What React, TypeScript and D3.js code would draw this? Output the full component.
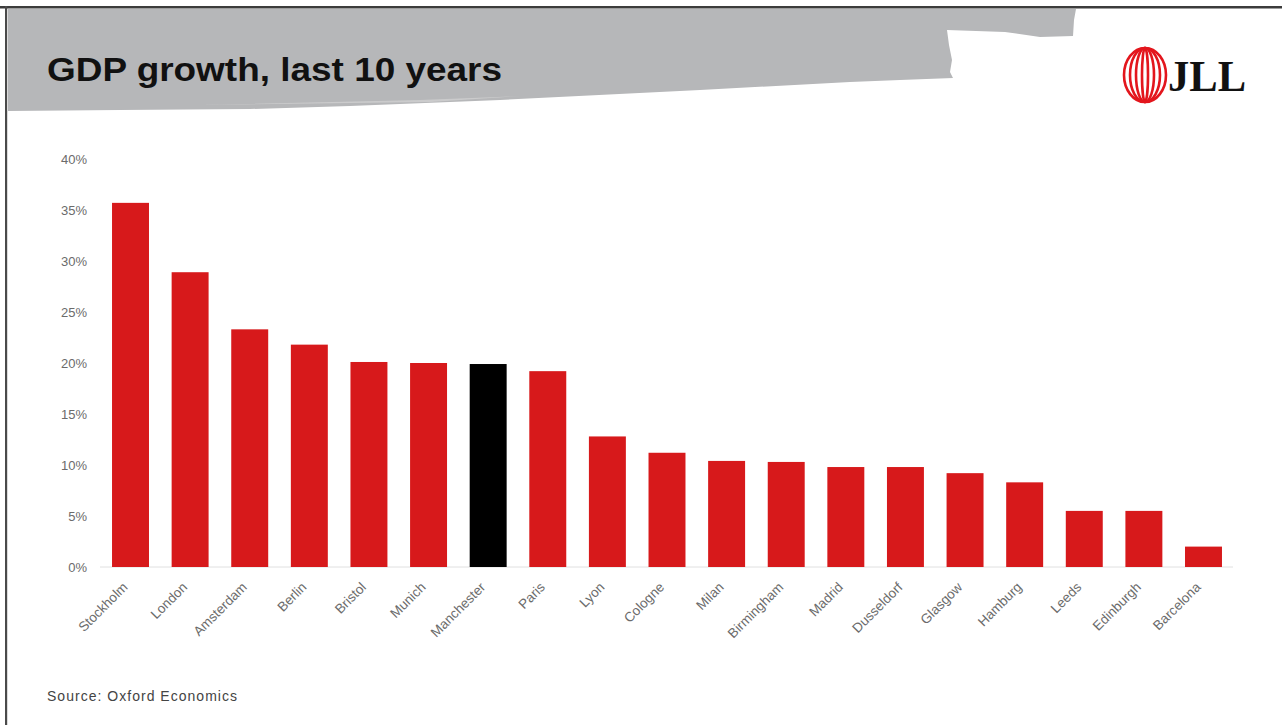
import React, { useEffect, useRef } from "react";
import * as d3 from "d3";

const cities = [
  "Stockholm", "London", "Amsterdam", "Berlin", "Bristol", "Munich", "Manchester",
  "Paris", "Lyon", "Cologne", "Milan", "Birmingham", "Madrid", "Dusseldorf",
  "Glasgow", "Hamburg", "Leeds", "Edinburgh", "Barcelona",
];
const growth = [35.7, 28.9, 23.3, 21.8, 20.1, 20.0, 19.9, 19.2, 12.8, 11.2, 10.4, 10.3, 9.8, 9.8, 9.2, 8.3, 5.5, 5.5, 2.0];
const highlighted = ["Manchester"];
const yTicks = [0, 5, 10, 15, 20, 25, 30, 35, 40];
const titleText = "GDP growth, last 10 years";
const sourceText = "Source: Oxford Economics";

const W = 1282;
const H = 725;

export default function App() {
  const ref = useRef<SVGSVGElement>(null);

  useEffect(() => {
    const svg = d3.select(ref.current);
    svg.selectAll("*").remove();

    svg.append("rect").attr("width", W).attr("height", H).attr("fill", "#fff");

    // brush header
    const brush: [number, number][] = [
      [8, 9], [1076, 9], [1074, 20], [1073, 36], [1040, 37], [1005, 32], [947, 30],
      [949, 45], [952, 60], [950, 72], [953, 78], [900, 80], [850, 82], [700, 90],
      [500, 100], [350, 106], [250, 109], [120, 110], [8, 111],
    ];
    svg.append("path")
      .attr("d", d3.line()(brush) + "Z")
      .attr("fill", "#b6b7b9");
    svg.append("path")
      .attr("d", "M200,105 L420,100 L520,96 L430,102 Z")
      .attr("fill", "#d8d8d8")
      .attr("opacity", 0.6);

    // frame lines
    svg.append("rect").attr("x", 0).attr("y", 6).attr("width", W).attr("height", 2.5).attr("fill", "#3c3c3c");
    svg.append("rect").attr("x", 5).attr("y", 6).attr("width", 2.2).attr("height", H - 6).attr("fill", "#4a4a4a");

    // title
    svg.append("text")
      .attr("x", 47).attr("y", 81)
      .attr("font-family", "'Liberation Sans', Arial, sans-serif")
      .attr("font-weight", "bold")
      .attr("font-size", 34)
      .attr("textLength", 455)
      .attr("lengthAdjust", "spacingAndGlyphs")
      .attr("fill", "#111")
      .text(titleText);

    // logo
    const logo = svg.append("g");
    [21, 15, 9, 3].forEach((rx) => {
      logo.append("ellipse")
        .attr("cx", 1145).attr("cy", 75).attr("rx", rx).attr("ry", 27)
        .attr("fill", "none").attr("stroke", "#e3161d").attr("stroke-width", 2.6);
    });
    logo.append("text")
      .attr("x", 1168).attr("y", 91)
      .attr("font-family", "'Liberation Serif', 'Times New Roman', serif")
      .attr("font-weight", "bold")
      .attr("font-size", 44)
      .attr("textLength", 78)
      .attr("lengthAdjust", "spacingAndGlyphs")
      .attr("fill", "#111")
      .text("JLL");

    // chart
    const x = d3.scaleBand<string>().domain(cities).range([100.7, 1233.3]).paddingInner(0.38).paddingOuter(0.19);
    const y = d3.scaleLinear().domain([0, 40]).range([567, 159]);

    svg.append("line")
      .attr("x1", 100).attr("x2", 1233).attr("y1", y(0)).attr("y2", y(0))
      .attr("stroke", "#e0e0e0").attr("stroke-width", 1);

    const yAxis = d3.axisLeft(y).tickValues(yTicks).tickSize(0).tickPadding(0).tickFormat((d) => `${d}%`);
    const yg = svg.append("g").attr("transform", "translate(87,0)").call(yAxis);
    yg.select(".domain").remove();
    yg.selectAll("text")
      .attr("font-family", "'Liberation Sans', Arial, sans-serif")
      .attr("font-size", 13)
      .attr("fill", "#6b6b6b");

    svg.append("g").selectAll("rect")
      .data(cities)
      .join("rect")
      .attr("x", (d) => x(d)!)
      .attr("width", x.bandwidth())
      .attr("y", (_, i) => y(growth[i]))
      .attr("height", (_, i) => y(0) - y(growth[i]))
      .attr("fill", (d) => (highlighted.includes(d) ? "#000" : "#d7191b"));

    const xAxis = d3.axisBottom(x).tickSize(0).tickPadding(0);
    const xg = svg.append("g").attr("transform", `translate(0,${y(0)})`).call(xAxis);
    xg.select(".domain").remove();
    xg.selectAll("text")
      .attr("font-family", "'Liberation Sans', Arial, sans-serif")
      .attr("font-size", 13.5)
      .attr("fill", "#6b6b6b")
      .attr("text-anchor", "end")
      .attr("dy", null)
      .attr("y", 0)
      .attr("transform", "translate(-2,21) rotate(-45)");

    // source
    svg.append("text")
      .attr("x", 47).attr("y", 701)
      .attr("font-family", "'Liberation Sans', Arial, sans-serif")
      .attr("font-size", 14)
      .attr("textLength", 190)
      .attr("lengthAdjust", "spacing")
      .attr("fill", "#444")
      .text(sourceText);
  }, []);

  return (
    <svg
      ref={ref}
      width={W}
      height={H}
      style={{ position: "absolute", left: 0, top: 0, display: "block" }}
    />
  );
}
